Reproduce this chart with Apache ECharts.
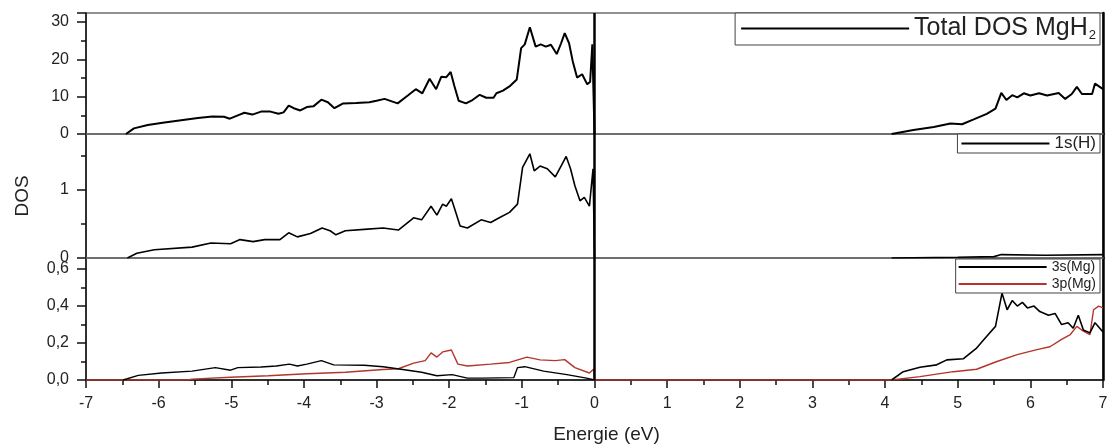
<!DOCTYPE html>
<html>
<head>
<meta charset="utf-8">
<script src="https://cdn.jsdelivr.net/npm/echarts@6/dist/echarts.min.js"></script>
<style>html,body{margin:0;padding:0;background:#fff}#c{width:1114px;height:446px}</style>
</head>
<body>
<div id="c"></div>
<script>
// ---- data (Energy eV, DOS) ----
const xTicks = [-7,-6,-5,-4,-3,-2,-1,0,1,2,3,4,5,6,7];
const totalVB = [[-6.45,0],[-6.34,1.5],[-6.15,2.4],[-5.92,3.1],[-5.69,3.7],[-5.46,4.3],[-5.26,4.7],[-5.10,4.6],[-5.02,4.1],[-4.91,5.0],[-4.82,5.7],[-4.71,5.2],[-4.59,6.0],[-4.46,6.0],[-4.35,5.4],[-4.28,5.8],[-4.21,7.6],[-4.14,6.9],[-4.05,6.3],[-3.96,7.2],[-3.87,7.4],[-3.76,9.2],[-3.67,8.5],[-3.58,6.9],[-3.46,8.2],[-3.28,8.3],[-3.10,8.5],[-3.00,8.9],[-2.89,9.4],[-2.80,8.8],[-2.71,8.2],[-2.57,10.3],[-2.46,12.0],[-2.37,10.9],[-2.27,14.8],[-2.18,12.0],[-2.11,15.3],[-2.04,15.2],[-1.98,16.6],[-1.93,12.9],[-1.87,8.9],[-1.77,8.2],[-1.68,9.1],[-1.58,10.5],[-1.49,9.7],[-1.39,9.7],[-1.35,10.9],[-1.26,11.6],[-1.16,12.9],[-1.07,14.6],[-1.01,23.0],[-0.96,24.0],[-0.89,28.6],[-0.81,23.4],[-0.74,24.0],[-0.67,23.4],[-0.60,23.9],[-0.52,21.4],[-0.46,24.3],[-0.41,27.0],[-0.35,24.3],[-0.30,19.5],[-0.24,15.1],[-0.17,16.0],[-0.10,13.3],[-0.06,14.0],[-0.03,24.0],[0,0]];
const totalCB = [[4.09,0],[4.39,1.05],[4.67,1.9],[4.90,2.8],[5.06,2.6],[5.22,3.9],[5.40,5.4],[5.52,6.8],[5.60,11.0],[5.67,9.1],[5.75,10.4],[5.82,9.8],[5.91,10.9],[6.00,10.3],[6.12,10.9],[6.23,10.3],[6.39,11.0],[6.48,9.4],[6.57,10.7],[6.64,12.6],[6.71,10.7],[6.85,10.7],[6.89,13.5],[6.98,12.3],[7.0,12.0]];
const hVB = [[-6.43,0],[-6.30,0.07],[-6.06,0.12],[-5.54,0.16],[-5.28,0.22],[-5.01,0.21],[-4.88,0.27],[-4.70,0.24],[-4.54,0.27],[-4.33,0.27],[-4.21,0.37],[-4.09,0.31],[-3.91,0.36],[-3.75,0.44],[-3.64,0.40],[-3.56,0.34],[-3.43,0.40],[-3.17,0.42],[-2.91,0.44],[-2.70,0.41],[-2.49,0.59],[-2.38,0.56],[-2.25,0.76],[-2.17,0.63],[-2.09,0.79],[-2.04,0.76],[-1.97,0.87],[-1.91,0.67],[-1.85,0.47],[-1.75,0.44],[-1.56,0.56],[-1.43,0.52],[-1.33,0.58],[-1.17,0.67],[-1.06,0.79],[-0.99,1.33],[-0.89,1.53],[-0.83,1.28],[-0.75,1.35],[-0.65,1.31],[-0.54,1.19],[-0.46,1.35],[-0.39,1.49],[-0.33,1.31],[-0.27,1.06],[-0.20,0.84],[-0.14,0.89],[-0.07,0.76],[-0.02,1.31],[0,0]];
const hCB = [[4.09,0],[5.0,0.01],[5.5,0.02],[5.6,0.05],[6.2,0.04],[7.0,0.05]];
const s3VB = [[-6.49,0],[-6.28,0.025],[-5.96,0.038],[-5.54,0.048],[-5.22,0.067],[-5.01,0.053],[-4.91,0.067],[-4.59,0.07],[-4.38,0.076],[-4.20,0.086],[-4.09,0.076],[-3.96,0.086],[-3.76,0.105],[-3.59,0.082],[-3.17,0.08],[-2.91,0.072],[-2.64,0.057],[-2.38,0.042],[-2.17,0.023],[-1.96,0.029],[-1.75,0.01],[-1.54,0.01],[-1.11,0.013],[-1.06,0.067],[-0.96,0.072],[-0.70,0.048],[-0.38,0.029],[-0.11,0.01],[0,0]];
const s3CB = [[4.09,0],[4.25,0.045],[4.48,0.069],[4.71,0.082],[4.85,0.109],[5.08,0.115],[5.26,0.173],[5.40,0.237],[5.52,0.29],[5.58,0.41],[5.61,0.47],[5.68,0.38],[5.75,0.43],[5.82,0.40],[5.89,0.42],[5.96,0.39],[6.05,0.40],[6.13,0.37],[6.25,0.35],[6.34,0.36],[6.43,0.30],[6.52,0.31],[6.59,0.28],[6.66,0.35],[6.73,0.27],[6.82,0.255],[6.89,0.31],[7.0,0.26]];
const p3All = [[-7,0],[-5.6,0],[-5.54,0.005],[-5.01,0.015],[-4.49,0.023],[-3.96,0.034],[-3.43,0.042],[-2.91,0.057],[-2.70,0.061],[-2.49,0.091],[-2.33,0.105],[-2.25,0.147],[-2.17,0.124],[-2.09,0.152],[-1.97,0.162],[-1.88,0.086],[-1.75,0.076],[-1.43,0.086],[-1.17,0.095],[-0.93,0.124],[-0.75,0.109],[-0.54,0.105],[-0.41,0.11],[-0.27,0.067],[-0.07,0.038],[-0.01,0.06],[0,0],[4.09,0],[4.48,0.018],[4.94,0.045],[5.26,0.058],[5.54,0.10],[5.82,0.137],[6.09,0.164],[6.27,0.18],[6.43,0.22],[6.55,0.246],[6.64,0.29],[6.73,0.264],[6.82,0.246],[6.87,0.38],[6.94,0.40],[7.0,0.39]];
const yMax = [32.4, 1.82, 0.66];
const yInterval = [10, 1, 0.2];
const names = ['Total DOS MgH2', '1s(H)', '3s(Mg)', '3p(Mg)'];

// ---- chart ----
const chart = echarts.init(document.getElementById('c'), null, {renderer:'canvas'});
const FONT = 'Liberation Sans, Arial, sans-serif';
const grids = [
  {left:86, right:11, top:13, height:121},
  {left:86, right:11, top:134, height:124},
  {left:86, right:11, top:258, height:122}
];
function xAx(i){
  const last = i === 2;
  return {
    type:'value', gridIndex:i, min:-7, max:7, interval:1,
    axisLine:{show:true, onZero:false, lineStyle:{color: last ? '#111' : '#777', width:1.5}},
    axisTick:{show:last, length:8, lineStyle:{color:'#111', width:1.5}},
    minorTick:{show:last, splitNumber:2, length:5, lineStyle:{color:'#111', width:1.5}},
    axisLabel:{show:last, fontSize:16, color:'#222', fontFamily:FONT, margin:16},
    splitLine:{show:false},
    name: last ? 'Energie (eV)' : '', nameLocation:'middle', nameGap:45,
    nameTextStyle:{fontSize:19, color:'#222', fontFamily:FONT, padding:[0,0,0,24]}
  };
}
function yAx(i){
  const iv = yInterval[i];
  return {
    type:'value', gridIndex:i, min:0, max:yMax[i], interval:iv,
    axisLine:{show:true, onZero:false, lineStyle:{color:'#111', width:1.5}},
    axisTick:{show:true, length:9, lineStyle:{color:'#111', width:1.5}},
    minorTick:{show:true, splitNumber:2, length:5, lineStyle:{color:'#111', width:1.5}},
    axisLabel:{fontSize:16, color:'#222', fontFamily:FONT, margin:17, showMaxLabel:false,
      formatter: v => {
        const k = v / iv;
        if (Math.abs(k - Math.round(k)) > 1e-6) return '';
        return i === 2 ? v.toFixed(1).replace('.', ',') : String(Math.round(v));
      }},
    splitLine:{show:false},
    name: i === 1 ? 'DOS' : '', nameLocation:'middle', nameGap:54, nameRotate:90,
    nameTextStyle:{fontSize:19, color:'#222', fontFamily:FONT}
  };
}
function yRight(i){
  return {type:'value', gridIndex:i, min:0, max:yMax[i], position:'right',
    axisLine:{show:true, onZero:false, lineStyle:{color:'#000', width:2.5}},
    axisTick:{show:false}, axisLabel:{show:false}, splitLine:{show:false}};
}
const vline = {silent:true, symbol:['none','none'], label:{show:false},
  lineStyle:{color:'#000', width:2.5, type:'solid'}, data:[{xAxis:0}]};
function line(name, data, gi, yi, color, width, mark){
  const s = {name, type:'line', data, xAxisIndex:gi, yAxisIndex:yi, showSymbol:false,
    symbol:'none', lineStyle:{color, width}, itemStyle:{color}, z:3, animation:false};
  if (mark) s.markLine = vline;
  return s;
}
function legendCfg(top, itemW, fs, items, padding, gap){
  return {
    data: items, right:14, top, orient:'vertical', itemWidth:itemW, itemHeight:2, itemGap:gap,
    icon:'rect', selectedMode:false, backgroundColor:'#fff', borderColor:'#444', borderWidth:1,
    padding, align:'left',
    textStyle:{fontSize:fs, color:'#222', fontFamily:FONT,
      rich:{a:{fontSize:fs, color:'#222', fontFamily:FONT}, s:{fontSize:13, color:'#222', fontFamily:FONT, padding:[14,0,0,1]}}},
    formatter: n => n === 'Total DOS MgH2' ? '{a|Total DOS MgH}{s|2}' : n
  };
}
chart.setOption({
  animation:false,
  grid: grids.map(g => Object.assign({show:true, borderColor:'#222', borderWidth:1, backgroundColor:'transparent'}, g)),
  xAxis: [0,1,2].map(xAx),
  yAxis: [yAx(0), yAx(1), yAx(2), yRight(0), yRight(1), yRight(2)],
  legend: [
    legendCfg(13, 168, 25, [names[0]], [3,4,3,6], 5),
    legendCfg(134, 88, 17, [names[1]], [1,4,1,4], 5),
    legendCfg(259, 88, 14, [names[2], names[3]], [1,4,2,3], 3)
  ],
  series: [
    line(names[0], totalVB, 0, 0, '#000', 2, true),
    line(names[0], totalCB, 0, 0, '#000', 2, false),
    line(names[1], hVB, 1, 1, '#000', 1.6, true),
    line(names[1], hCB, 1, 1, '#000', 1.6, false),
    line(names[3], p3All, 2, 2, '#b3362c', 1.4, false),
    line(names[2], s3VB, 2, 2, '#000', 1.4, true),
    line(names[2], s3CB, 2, 2, '#000', 1.6, false)
  ]
});
</script>
</body>
</html>
